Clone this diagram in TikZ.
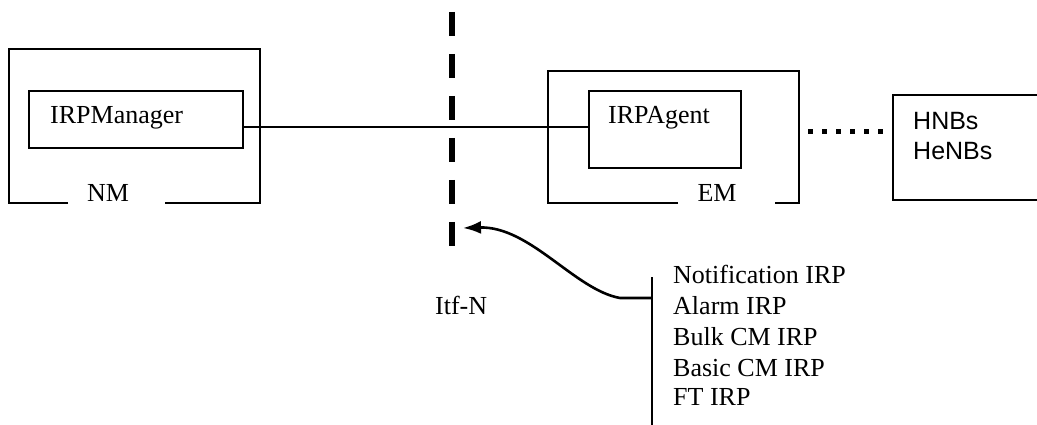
\documentclass[tikz,border=0pt]{standalone}
\usepackage{fontspec}
\setmainfont{Liberation Serif}
\newfontfamily\arialfont{Liberation Sans}
\usetikzlibrary{arrows.meta}
\begin{document}
\begin{tikzpicture}[x=1pt,y=-1pt,
  frame/.style={line width=2pt},
  inbox/.style={draw,line width=2pt,inner sep=0pt,anchor=north west},
  lbl/.style={font=\fontsize{26}{30}\selectfont,inner sep=0pt,anchor=base west},
  lblc/.style={font=\fontsize{26}{30}\selectfont,inner sep=0pt,anchor=base},
  slbl/.style={font=\arialfont\fontsize{25}{30}\selectfont,inner sep=0pt,anchor=base west},
  link/.style={line width=1.3pt},
  dots/.style={line width=5pt,dash pattern=on 5pt off 9pt},
  itf/.style={line width=6pt,dash pattern=on 24pt off 18pt},
  curvearrow/.style={line width=2.6pt,-{Latex[length=18pt,width=13pt]}}]
\useasboundingbox (0,0) rectangle (1037,425);
\fill[white] (0,0) rectangle (1037,425);

% NM frame
\coordinate (nmA) at (68,203);
\coordinate (nmB) at (165,203);
\draw[frame] (nmA) -- (9,203) -- (9,49) -- (260,49) -- (260,203) -- (nmB);
\node[lblc] (nm) at (108,202) {NM};
\node[inbox,minimum width=214pt,minimum height=57pt] (mgr) at (28,90) {};
\node[lbl] (mgrt) at (50,124) {IRPManager};

% EM frame
\coordinate (emA) at (678,203);
\coordinate (emB) at (775,203);
\draw[frame] (emA) -- (548,203) -- (548,71) -- (799,71) -- (799,203) -- (emB);
\coordinate (emR) at (799,132);
\node[lblc] (em) at (717,202) {EM};
\node[inbox,minimum width=152pt,minimum height=77pt] (agt) at (588,90) {};
\node[lbl] (agtt) at (608,124) {IRPAgent};

% link manager - agent
\draw[link] (mgr.east |- 0,127) -- (agt.west |- 0,127);

% HNB box (open at the right, clipped)
\coordinate (hnbL) at (893,132);
\draw[frame] (1037,95) -- (893,95) -- (893,200) -- (1037,200);
\node[slbl] (hnb1) at (913,130) {HNBs};
\node[slbl] (hnb2) at (913,160) {HeNBs};
\draw[dots] (emR) ++(9,0) coordinate (dotS) -- (hnbL);

% Itf-N dashed boundary
\coordinate (itfT) at (452,12);
\coordinate (itfB) at (452,246);
\draw[itf] (itfT) -- (itfB);
\node[lbl] (itfn) at (435,314) {Itf-N};

% IRP list
\coordinate (lsT) at (652,277);
\coordinate (lsB) at (652,425);
\draw[line width=2pt] (lsT) -- (lsB);
\coordinate (lsJ) at (652,298);
\coordinate (tip) at (463,228);
\draw[curvearrow] (lsJ) -- (620,298) .. controls (575,290) and (530,226) .. (tip);
\node[lbl] (irp1) at (673,283) {Notification IRP};
\node[lbl] (irp2) at (673,314) {Alarm IRP};
\node[lbl] (irp3) at (673,345) {Bulk CM IRP};
\node[lbl] (irp4) at (673,376) {Basic CM IRP};
\node[lbl] (irp5) at (673,405) {FT IRP};
\end{tikzpicture}
\end{document}
